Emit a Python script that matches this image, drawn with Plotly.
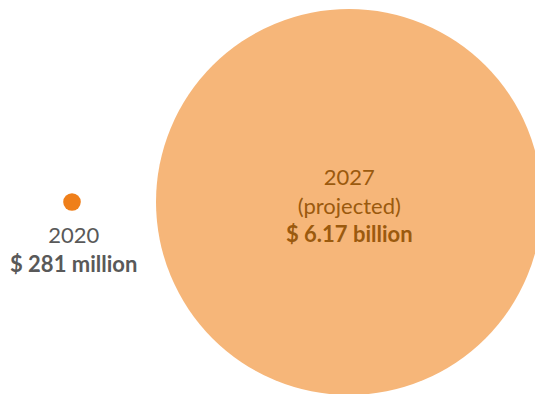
import plotly.graph_objects as go

# Market size by year (USD millions)
years = ["2020", "2027"]
notes = ["", "(projected)"]
values_musd = [281, 6170]
value_labels = ["$ 281 million", "$ 6.17 billion"]

fill_colors = ["#EF7F1A", "#F6B679"]
text_colors = ["#595959", "#9B5A0E"]

W, H = 535, 394
# circle radius proportional to value, largest circle 193 px
max_r = 193.0
radii = [max_r * v / max(values_musd) for v in values_musd]
centers_x = [72, 349]
center_y = 202

fig = go.Figure()
fig.add_trace(go.Scatter(
    x=centers_x,
    y=[center_y, center_y],
    mode="markers",
    marker=dict(size=[2 * r for r in radii], sizemode="diameter",
                color=fill_colors, line=dict(width=0), opacity=1),
    hoverinfo="skip",
    cliponaxis=False,
))

font_family = "Lato, 'Open Sans', sans-serif"
# label under the small circle
fig.add_annotation(
    x=centers_x[0] + 1, y=center_y + radii[0] + 8, xref="x", yref="y",
    text=f"{years[0]}<br><b>{value_labels[0]}</b>",
    showarrow=False, yanchor="top", xanchor="center",
    font=dict(family=font_family, size=22, color=text_colors[0]),
)
# label inside the large circle
fig.add_annotation(
    x=centers_x[1], y=center_y + 3, xref="x", yref="y",
    text=f"{years[1]}<br>{notes[1]}<br><b>{value_labels[1]}</b>",
    showarrow=False, yanchor="middle", xanchor="center",
    font=dict(family=font_family, size=22, color=text_colors[1]),
)

fig.update_layout(
    width=W, height=H,
    margin=dict(l=0, r=0, t=0, b=0),
    paper_bgcolor="white", plot_bgcolor="white",
    showlegend=False,
    xaxis=dict(range=[0, W], visible=False, fixedrange=True),
    yaxis=dict(range=[H, 0], visible=False, fixedrange=True),
)

fig.write_html("out.html")
